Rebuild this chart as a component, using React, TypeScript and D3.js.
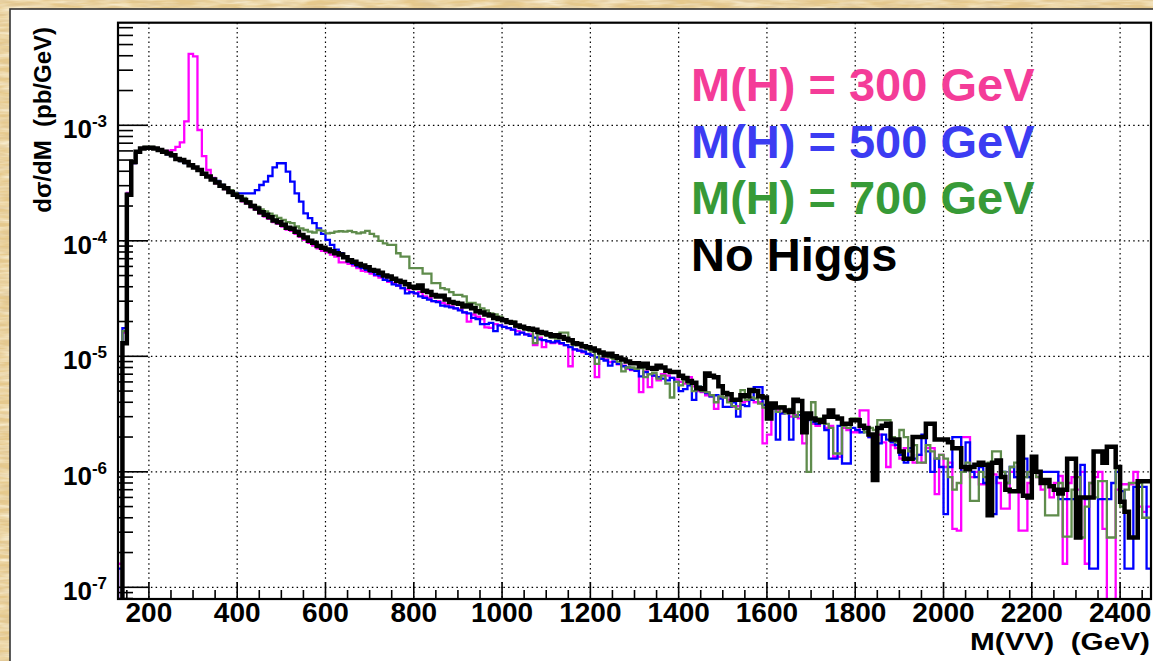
import React from 'react';
import * as d3 from 'd3';

// Histogram binning: 10 GeV bins starting at 130 GeV
const BIN_LO = 130;
const BIN_W = 10;

// d(sigma)/dM in pb/GeV, one value per 10 GeV bin (130 ... 2460 GeV)
const NO_HIGGS = [
  0, 1.3e-5, 2.5e-4, 4.8e-4, 5.9e-4, 6.3e-4, 6.4e-4,
  6.4e-4, 6.3e-4, 6.1e-4, 5.9e-4, 5.7e-4, 5.5e-4, 5.1e-4, 5.0e-4, 4.8e-4, 4.5e-4,
  4.3e-4, 4.1e-4, 3.8e-4, 3.6e-4, 3.4e-4, 3.2e-4, 3.0e-4, 2.85e-4, 2.65e-4, 2.5e-4,
  2.4e-4, 2.25e-4, 2.15e-4, 2.0e-4, 1.9e-4, 1.77e-4, 1.68e-4, 1.6e-4, 1.5e-4, 1.45e-4,
  1.38e-4, 1.3e-4, 1.27e-4, 1.2e-4, 1.12e-4, 1.07e-4, 1.0e-4, 9.6e-5, 9.0e-5, 8.7e-5,
  8.4e-5, 8.1e-5, 7.8e-5, 7.6e-5, 7.2e-5, 6.8e-5, 6.6e-5, 6.3e-5, 6.1e-5, 5.9e-5,
  5.6e-5, 5.5e-5, 5.3e-5, 5.0e-5, 4.9e-5, 4.7e-5, 4.5e-5, 4.4e-5, 4.2e-5, 4.0e-5,
  3.9e-5, 4.1e-5, 3.7e-5, 3.6e-5, 3.4e-5, 3.3e-5, 3.35e-5, 3.1e-5, 2.95e-5, 2.9e-5,
  2.85e-5, 2.7e-5, 2.75e-5, 2.6e-5, 2.45e-5, 2.4e-5, 2.3e-5, 2.25e-5, 2.15e-5, 2.1e-5,
  2.05e-5, 1.98e-5, 1.95e-5, 1.85e-5, 1.8e-5, 1.75e-5, 1.73e-5, 1.7e-5, 1.62e-5, 1.6e-5,
  1.55e-5, 1.5e-5, 1.52e-5, 1.47e-5, 1.42e-5, 1.38e-5, 1.3e-5, 1.28e-5, 1.22e-5, 1.2e-5,
  1.17e-5, 1.12e-5, 1.08e-5, 1.02e-5, 1.05e-5, 1.0e-5, 9.7e-6, 9.4e-6, 9.0e-6, 8.7e-6,
  8.7e-6, 8.2e-6, 8.6e-6, 7.9e-6, 7.8e-6, 8.3e-6, 8.0e-6, 7.5e-6, 7.3e-6, 7.3e-6,
  6.8e-6, 6.5e-6, 6.1e-6, 5.9e-6, 5.3e-6, 5.2e-6, 7.1e-6, 6.8e-6, 6.6e-6, 5.5e-6,
  4.8e-6, 4.7e-6, 4.2e-6, 4.2e-6, 4.6e-6, 4.5e-6, 5.1e-6, 5.0e-6, 4.5e-6, 4.4e-6,
  2.9e-6, 3.9e-6, 3.6e-6, 3.6e-6, 3.4e-6, 3.3e-6, 4.2e-6, 4.1e-6, 2.2e-6, 3.2e-6,
  2.9e-6, 2.8e-6, 2.7e-6, 3.0e-6, 3.4e-6, 3.0e-6, 2.9e-6, 2.6e-6, 2.6e-6, 2.8e-6,
  2.8e-6, 2.5e-6, 2.4e-6, 2.1e-6, 8.5e-7, 2.4e-6, 2.5e-6, 2.6e-6, 1.9e-6, 1.9e-6,
  1.5e-6, 1.3e-6, 1.3e-6, 2.0e-6, 2.0e-6, 2.0e-6, 2.6e-6, 2.6e-6, 1.9e-6, 1.9e-6,
  1.9e-6, 1.8e-6, 1.6e-6, 1.6e-6, 1.1e-6, 1.05e-6, 1.1e-6, 1.15e-6, 1.2e-6, 1.15e-6,
  4.2e-7, 1.2e-6, 1.25e-6, 9e-7, 7e-7, 6.8e-7, 6.8e-7, 2.0e-6, 6.2e-7, 6e-7,
  1.35e-6, 1.0e-6, 8e-7, 8.5e-7, 7.5e-7, 7e-7, 6.5e-7, 7e-7, 1.3e-6, 1.3e-6,
  2.7e-7, 6e-7, 6e-7, 6e-7, 1.5e-6, 1.5e-6, 1.2e-6, 1.65e-6, 1.65e-6, 1.1e-6,
  5.5e-7, 4.5e-7, 2.7e-7, 2.7e-7, 8.3e-7, 8.3e-7, 8.3e-7,
];

const MH300 = [
  1.6e-7, 1.6e-5, 2.6e-4, 4.7e-4, 5.8e-4, 6.3e-4, 6.4e-4,
  6.4e-4, 6.3e-4, 6.0e-4, 6.0e-4, 6.0e-4, 6.1e-4, 6.5e-4, 7.1e-4, 1.08e-3, 4.15e-3,
  3.95e-3, 9.1e-4, 5.4e-4, 4.1e-4, 3.5e-4, 3.15e-4, 2.95e-4, 2.8e-4, 2.6e-4, 2.45e-4,
  2.35e-4, 2.2e-4, 2.1e-4, 1.95e-4, 1.85e-4, 1.72e-4, 1.62e-4, 1.55e-4, 1.45e-4, 1.4e-4,
  1.33e-4, 1.25e-4, 1.22e-4, 1.15e-4, 1.08e-4, 1.02e-4, 9.6e-5, 9.1e-5, 8.6e-5, 8.2e-5,
  8.0e-5, 7.6e-5, 7.3e-5, 6.5e-5, 6.5e-5, 6.3e-5, 6.1e-5, 5.8e-5, 5.5e-5, 5.4e-5,
  5.2e-5, 5.0e-5, 4.8e-5, 4.6e-5, 4.4e-5, 4.3e-5, 4.1e-5, 3.9e-5, 3.8e-5, 3.6e-5,
  3.5e-5, 3.6e-5, 3.3e-5, 3.2e-5, 3.0e-5, 3.0e-5, 2.9e-5, 2.8e-5, 2.7e-5, 2.6e-5,
  2.55e-5, 2.4e-5, 2.0e-5, 2.3e-5, 2.2e-5, 2.1e-5, 1.78e-5, 1.76e-5, 1.9e-5, 1.85e-5,
  1.8e-5, 1.75e-5, 1.7e-5, 1.65e-5, 1.6e-5, 1.55e-5, 1.55e-5, 1.25e-5, 1.45e-5, 1.2e-5,
  1.35e-5, 1.3e-5, 1.32e-5, 1.28e-5, 1.25e-5, 8.2e-6, 1.15e-5, 1.12e-5, 1.08e-5, 1.05e-5,
  1.02e-5, 6.6e-6, 9.6e-6, 9.4e-6, 8.9e-6, 9.0e-6, 8.5e-6, 8.3e-6, 7.8e-6, 7.6e-6,
  7.6e-6, 4.9e-6, 7.4e-6, 5.4e-6, 6.8e-6, 6.2e-6, 7.0e-6, 6.8e-6, 6.5e-6, 6.3e-6,
  6.0e-6, 5.8e-6, 6.6e-6, 5.5e-6, 5.0e-6, 4.9e-6, 4.6e-6, 4.5e-6, 3.5e-6, 4.4e-6,
  4.4e-6, 4.2e-6, 3.65e-6, 3.7e-6, 4.0e-6, 4.1e-6, 4.3e-6, 4.0e-6, 4.0e-6, 1.76e-6,
  2.1e-6, 3.6e-6, 3.4e-6, 3.2e-6, 3.3e-6, 3.0e-6, 3.1e-6, 2.9e-6, 1.76e-6, 2.9e-6,
  2.6e-6, 2.5e-6, 2.7e-6, 2.4e-6, 2.5e-6, 1.35e-6, 1.35e-6, 2.4e-6, 2.3e-6, 2.2e-6,
  2.2e-6, 3.4e-6, 3.4e-6, 2.0e-6, 1.9e-6, 2.1e-6, 1.8e-6, 1.1e-6, 1.7e-6, 1.6e-6,
  1.3e-6, 1.6e-6, 1.5e-6, 1.2e-6, 1.4e-6, 1.2e-6, 1.6e-6, 1.6e-6, 6.4e-7, 1.4e-6,
  1.1e-6, 1.2e-6, 3.2e-7, 3.1e-7, 2.0e-6, 2.0e-6, 9e-7, 1.0e-6, 7.8e-7, 7.8e-7,
  1.1e-6, 9.5e-7, 8e-7, 4.8e-7, 4.8e-7, 1.0e-6, 9e-7, 3.1e-7, 3.1e-7, 8e-7,
  1.1e-6, 9e-7, 7e-7, 8e-7, 6e-7, 8e-7, 9.2e-7, 1.6e-7, 8e-7, 9e-7,
  7e-7, 1.0e-6, 1.6e-7, 8e-7, 9e-7, 1.0e-6, 3.2e-7, 5e-8, 5e-8, 7e-7,
  7.8e-7, 7.8e-7, 7.8e-7, 1.0e-6, 5e-7, 4.5e-7, 5e-7,
];

const MH500 = [
  1.45e-7, 1.75e-5, 2.55e-4, 4.7e-4, 5.8e-4, 6.3e-4, 6.4e-4,
  6.4e-4, 6.25e-4, 6.0e-4, 5.8e-4, 5.6e-4, 5.4e-4, 5.1e-4, 4.9e-4, 4.7e-4, 4.5e-4,
  4.3e-4, 4.1e-4, 3.85e-4, 3.6e-4, 3.45e-4, 3.3e-4, 3.05e-4, 2.9e-4, 2.7e-4, 2.6e-4,
  2.57e-4, 2.57e-4, 2.57e-4, 2.57e-4, 2.75e-4, 3.04e-4, 3.25e-4, 3.64e-4, 4.33e-4, 4.69e-4,
  4.69e-4, 3.97e-4, 3.25e-4, 2.57e-4, 2.18e-4, 1.73e-4, 1.57e-4, 1.42e-4, 1.28e-4, 1.15e-4,
  1.02e-4, 9.2e-5, 8.4e-5, 7.8e-5, 7.2e-5, 6.6e-5, 6.3e-5, 6.0e-5, 5.8e-5, 5.6e-5,
  5.4e-5, 5.1e-5, 5.0e-5, 4.6e-5, 4.5e-5, 4.2e-5, 4.1e-5, 3.9e-5, 3.5e-5, 3.6e-5,
  3.5e-5, 3.3e-5, 3.2e-5, 3.1e-5, 3.0e-5, 2.95e-5, 2.75e-5, 2.7e-5, 2.65e-5, 2.6e-5,
  2.5e-5, 2.4e-5, 2.35e-5, 2.15e-5, 2.1e-5, 1.9e-5, 1.9e-5, 1.95e-5, 1.65e-5, 1.85e-5,
  1.8e-5, 1.75e-5, 1.7e-5, 1.55e-5, 1.6e-5, 1.55e-5, 1.5e-5, 1.45e-5, 1.4e-5, 1.38e-5,
  1.35e-5, 1.32e-5, 1.35e-5, 1.3e-5, 1.25e-5, 1.2e-5, 1.15e-5, 1.12e-5, 1.1e-5, 1.05e-5,
  1.02e-5, 9.8e-6, 9.5e-6, 9.2e-6, 8.3e-6, 9.0e-6, 8.6e-6, 8.2e-6, 8.0e-6, 7.7e-6,
  7.5e-6, 6.7e-6, 7.3e-6, 7.0e-6, 6.8e-6, 6.6e-6, 6.4e-6, 6.2e-6, 6.5e-6, 6.0e-6,
  5.0e-6, 5.2e-6, 5.6e-6, 4.2e-6, 5.5e-6, 5.0e-6, 4.8e-6, 4.5e-6, 4.6e-6, 4.3e-6,
  3.65e-6, 3.65e-6, 4.0e-6, 3.0e-6, 3.8e-6, 3.7e-6, 4.2e-6, 5.4e-6, 5.4e-6, 3.8e-6,
  3.9e-6, 3.5e-6, 1.9e-6, 3.2e-6, 3.4e-6, 1.9e-6, 3.0e-6, 3.1e-6, 2.9e-6, 2.8e-6,
  2.7e-6, 2.6e-6, 2.7e-6, 2.3e-6, 1.3e-6, 1.3e-6, 2.5e-6, 1.18e-6, 1.18e-6, 2.4e-6,
  2.3e-6, 2.2e-6, 2.4e-6, 2.0e-6, 1.76e-6, 1.76e-6, 2.1e-6, 1.9e-6, 1.8e-6, 1.7e-6,
  1.4e-6, 1.2e-6, 1.6e-6, 1.3e-6, 1.4e-6, 2.1e-6, 1.5e-6, 1.0e-6, 1.3e-6, 1.1e-6,
  4.3e-7, 1.1e-6, 2.0e-6, 2.0e-6, 1.0e-6, 1.8e-6, 1.0e-6, 9e-7, 1.1e-6, 8e-7,
  4.3e-7, 4.3e-7, 9e-7, 1.0e-6, 8e-7, 1.1e-6, 9e-7, 1.2e-6, 1.3e-6, 9e-7,
  1.0e-6, 1.0e-6, 1.0e-6, 1.0e-6, 1.0e-6, 1.0e-6, 5.8e-7, 5.8e-7, 5.8e-7, 5.8e-7,
  5.8e-7, 1.15e-6, 5.8e-7, 1.45e-7, 1.45e-7, 5.8e-7, 5.8e-7, 5.8e-7, 8e-7, 1.0e-6,
  6.8e-7, 1.45e-7, 1.45e-7, 7.4e-7, 7.4e-7, 7.4e-7, 1.45e-7,
];

const MH700 = [
  0, 1.65e-5, 2.55e-4, 4.7e-4, 5.8e-4, 6.3e-4, 6.5e-4,
  6.5e-4, 6.3e-4, 6.1e-4, 5.9e-4, 5.7e-4, 5.4e-4, 5.1e-4, 4.9e-4, 4.7e-4, 4.5e-4,
  4.3e-4, 4.1e-4, 3.8e-4, 3.6e-4, 3.4e-4, 3.25e-4, 3.05e-4, 2.9e-4, 2.75e-4, 2.6e-4,
  2.45e-4, 2.35e-4, 2.2e-4, 2.05e-4, 1.98e-4, 1.87e-4, 1.8e-4, 1.72e-4, 1.65e-4, 1.58e-4,
  1.52e-4, 1.45e-4, 1.42e-4, 1.33e-4, 1.28e-4, 1.24e-4, 1.2e-4, 1.18e-4, 1.24e-4, 1.22e-4,
  1.16e-4, 1.17e-4, 1.2e-4, 1.21e-4, 1.2e-4, 1.22e-4, 1.19e-4, 1.16e-4, 1.18e-4, 1.22e-4,
  1.15e-4, 1.09e-4, 1.0e-4, 9.5e-5, 9.2e-5, 9.2e-5, 7.8e-5, 7.3e-5, 7.3e-5, 5.8e-5,
  5.8e-5, 5.8e-5, 5.2e-5, 5.2e-5, 4.3e-5, 4.3e-5, 3.9e-5, 3.8e-5, 3.6e-5, 3.4e-5,
  3.4e-5, 3.3e-5, 2.9e-5, 2.9e-5, 2.8e-5, 2.6e-5, 2.5e-5, 2.35e-5, 2.3e-5, 2.2e-5,
  2.05e-5, 1.95e-5, 2.0e-5, 1.8e-5, 1.75e-5, 1.7e-5, 1.65e-5, 1.3e-5, 1.55e-5, 1.55e-5,
  1.5e-5, 1.45e-5, 1.42e-5, 1.6e-5, 1.6e-5, 1.35e-5, 1.25e-5, 1.25e-5, 1.2e-5, 1.15e-5,
  1.1e-5, 8.6e-6, 1.05e-5, 1.0e-5, 9.8e-6, 9.5e-6, 9.0e-6, 7.4e-6, 8.0e-6, 8.0e-6,
  7.8e-6, 7.9e-6, 6.6e-6, 7.0e-6, 7.2e-6, 6.4e-6, 6.8e-6, 5.8e-6, 4.4e-6, 6.0e-6,
  5.6e-6, 6.2e-6, 5.8e-6, 5.0e-6, 5.5e-6, 5.0e-6, 4.9e-6, 4.6e-6, 4.0e-6, 4.5e-6,
  4.4e-6, 4.0e-6, 3.7e-6, 3.5e-6, 5.1e-6, 4.2e-6, 4.4e-6, 4.3e-6, 3.9e-6, 3.6e-6,
  3.8e-6, 3.6e-6, 3.3e-6, 3.7e-6, 3.2e-6, 3.5e-6, 3.0e-6, 3.3e-6, 2.9e-6, 1.0e-6,
  4.0e-6, 2.9e-6, 2.9e-6, 2.6e-6, 2.4e-6, 1.44e-6, 1.44e-6, 2.5e-6, 2.4e-6, 2.9e-6,
  2.9e-6, 2.5e-6, 2.2e-6, 2.4e-6, 2.3e-6, 2.8e-6, 2.8e-6, 2.8e-6, 2.0e-6, 1.8e-6,
  2.3e-6, 2.0e-6, 1.5e-6, 1.7e-6, 1.2e-6, 1.2e-6, 1.7e-6, 1.5e-6, 1.3e-6, 1.4e-6,
  1.3e-6, 9e-7, 7e-7, 8e-7, 1.0e-6, 1.2e-6, 5.6e-7, 5.6e-7, 1.0e-6, 9e-7,
  1.2e-6, 1.5e-6, 1.5e-6, 1.0e-6, 8e-7, 1.1e-6, 1.2e-6, 1.0e-6, 9e-7, 1.0e-6,
  1.2e-6, 9e-7, 8e-7, 4.2e-7, 4.2e-7, 4.2e-7, 8e-7, 2.75e-7, 2.75e-7, 7e-7,
  9e-7, 2.7e-7, 5e-7, 8e-7, 6e-7, 8.3e-7, 8.3e-7, 2.7e-7, 2.7e-7, 1.1e-6,
  5e-7, 7e-7, 8e-7, 8e-7, 8e-7, 4.0e-7, 4.0e-7,
];

const X_TICKS = [200, 400, 600, 800, 1000, 1200, 1400, 1600, 1800, 2000, 2200, 2400];
const Y_DECADES = [-7, -6, -5, -4, -3];

const SERIES = [
  { name: 'M(H) = 300 GeV', values: MH300, line: '#ff00ff', text: '#f43c98', width: 2.3 },
  { name: 'M(H) = 500 GeV', values: MH500, line: '#0000ff', text: '#3c3cf2', width: 2.3 },
  { name: 'M(H) = 700 GeV', values: MH700, line: '#5f8c4c', text: '#379a37', width: 2.3 },
  { name: 'No Higgs', values: NO_HIGGS, line: '#000000', text: '#000000', width: 4.5 },
];

const W = 1153;
const H = 661;
const PLOT = { left: 118, right: 1151, top: 22.7, bottom: 599 };
const X_RANGE = [130, 2470];
const Y_RANGE = [7.92e-8, 7.73e-3];
const FONT = '"Liberation Sans", Arial, Helvetica, sans-serif';

export default function App() {
  const x = d3.scaleLinear().domain(X_RANGE).range([PLOT.left, PLOT.right]);
  const y = d3.scaleLog().domain(Y_RANGE).range([PLOT.bottom, PLOT.top]);
  const floor = Y_RANGE[0] * 0.5;

  const histPath = (vals: number[]) => {
    const pts: [number, number][] = [[BIN_LO, floor]];
    vals.forEach((v, i) => pts.push([BIN_LO + i * BIN_W, v > 0 ? v : floor]));
    pts.push([BIN_LO + vals.length * BIN_W, vals[vals.length - 1] || floor]);
    const line = d3
      .line<[number, number]>()
      .x((d) => x(d[0]))
      .y((d) => y(Math.max(d[1], floor)))
      .curve(d3.curveStepAfter);
    return line(pts) || '';
  };

  // minor ticks on the log axis: 2..9 x 10^n
  const minorY: number[] = [];
  for (let e = -8; e <= -3; e++) {
    for (let k = 2; k <= 9; k++) {
      const v = k * Math.pow(10, e);
      if (v >= Y_RANGE[0] && v <= Y_RANGE[1]) minorY.push(v);
    }
  }
  const minorX: number[] = d3.range(150, 2470, 50).filter((v) => v % 200 !== 0);

  return (
    <svg
      width={W}
      height={H}
      viewBox={`0 0 ${W} ${H}`}
      style={{ position: 'absolute', left: 0, top: 0, display: 'block' }}
      fontFamily={FONT}
    >
      <defs>
        <filter id="grain" x="0" y="0" width="100%" height="100%">
          <feTurbulence type="fractalNoise" baseFrequency="0.03 0.22" numOctaves="3" seed="7" result="n" />
          <feColorMatrix
            in="n"
            type="matrix"
            values="0 0 0 0 1  0 0 0 0 0.96  0 0 0 0 0.82  1.6 0 0 0 -0.55"
          />
        </filter>
        <filter id="grainDark" x="0" y="0" width="100%" height="100%">
          <feTurbulence type="fractalNoise" baseFrequency="0.05 0.3" numOctaves="2" seed="11" result="n" />
          <feColorMatrix
            in="n"
            type="matrix"
            values="0 0 0 0 0.72  0 0 0 0 0.55  0 0 0 0 0.3  1.5 0 0 0 -0.6"
          />
        </filter>
        <clipPath id="plotClip">
          <rect x={PLOT.left} y={PLOT.top} width={PLOT.right - PLOT.left} height={PLOT.bottom - PLOT.top} />
        </clipPath>
      </defs>

      {/* parchment backdrop */}
      <rect x={0} y={0} width={W} height={H} fill="#e6c98c" />
      <rect x={0} y={0} width={W} height={H} filter="url(#grain)" />
      <rect x={0} y={0} width={W} height={H} filter="url(#grainDark)" />

      {/* canvas panel */}
      <rect x={10} y={9} width={W + 20} height={H + 20} fill="#ffffff" stroke="#333333" strokeWidth={1.6} />

      {/* dotted grid */}
      <g stroke="#000" strokeWidth={1.2} strokeDasharray="1.5 3.2">
        {X_TICKS.map((t) => (
          <line key={`gx${t}`} x1={x(t)} x2={x(t)} y1={PLOT.top} y2={PLOT.bottom} />
        ))}
        {Y_DECADES.map((e) => (
          <line key={`gy${e}`} x1={PLOT.left} x2={PLOT.right} y1={y(Math.pow(10, e))} y2={y(Math.pow(10, e))} />
        ))}
      </g>

      {/* histograms */}
      <g clipPath="url(#plotClip)" fill="none" strokeLinejoin="miter">
        {SERIES.map((s) => (
          <path key={s.name} d={histPath(s.values)} stroke={s.line} strokeWidth={s.width} />
        ))}
      </g>

      {/* axis ticks */}
      <g stroke="#000" strokeWidth={1.6}>
        {Y_DECADES.map((e) => (
          <line key={`ty${e}`} x1={PLOT.left} x2={PLOT.left + 30} y1={y(Math.pow(10, e))} y2={y(Math.pow(10, e))} />
        ))}
        {minorY.map((v) => (
          <line key={`my${v}`} x1={PLOT.left} x2={PLOT.left + 15} y1={y(v)} y2={y(v)} />
        ))}
        {X_TICKS.map((t) => (
          <line key={`tx${t}`} x1={x(t)} x2={x(t)} y1={PLOT.bottom} y2={PLOT.bottom - 17} />
        ))}
        {minorX.map((t) => (
          <line key={`mx${t}`} x1={x(t)} x2={x(t)} y1={PLOT.bottom} y2={PLOT.bottom - 9} />
        ))}
      </g>

      {/* frame */}
      <rect
        x={PLOT.left}
        y={PLOT.top}
        width={PLOT.right - PLOT.left}
        height={PLOT.bottom - PLOT.top}
        fill="none"
        stroke="#000"
        strokeWidth={2.2}
      />

      {/* y tick labels */}
      <g fontWeight="bold" fill="#000">
        {Y_DECADES.map((e) => (
          <text key={`ly${e}`} x={107} y={y(Math.pow(10, e)) + 13} textAnchor="end" fontSize={26}>
            10
            <tspan fontSize={17} dy={-11}>
              {String(e)}
            </tspan>
          </text>
        ))}
      </g>

      {/* x tick labels */}
      <g fontWeight="bold" fill="#000" fontSize={28} textAnchor="middle">
        {X_TICKS.map((t) => (
          <text key={`lx${t}`} x={x(t)} y={621.5}>
            {t}
          </text>
        ))}
      </g>

      {/* axis titles */}
      <text
        x={970}
        y={649.5}
        fontWeight="bold"
        fontSize={23}
        fill="#000"
        textLength={180}
        lengthAdjust="spacingAndGlyphs"
        style={{ whiteSpace: 'pre' }}
      >
        {'M(VV)  (GeV)'}
      </text>
      <text
        transform="translate(51,27) rotate(-90)"
        textAnchor="end"
        fontWeight="bold"
        fontSize={24}
        fill="#000"
        style={{ whiteSpace: 'pre' }}
      >
        {'dσ/dM  (pb/GeV)'}
      </text>

      {/* legend */}
      <g fontWeight="bold" fontSize={47}>
        {SERIES.map((s, i) => (
          <text key={`lg${i}`} x={691} y={101 + i * 56.5} fill={s.text}>
            {s.name}
          </text>
        ))}
      </g>
    </svg>
  );
}
